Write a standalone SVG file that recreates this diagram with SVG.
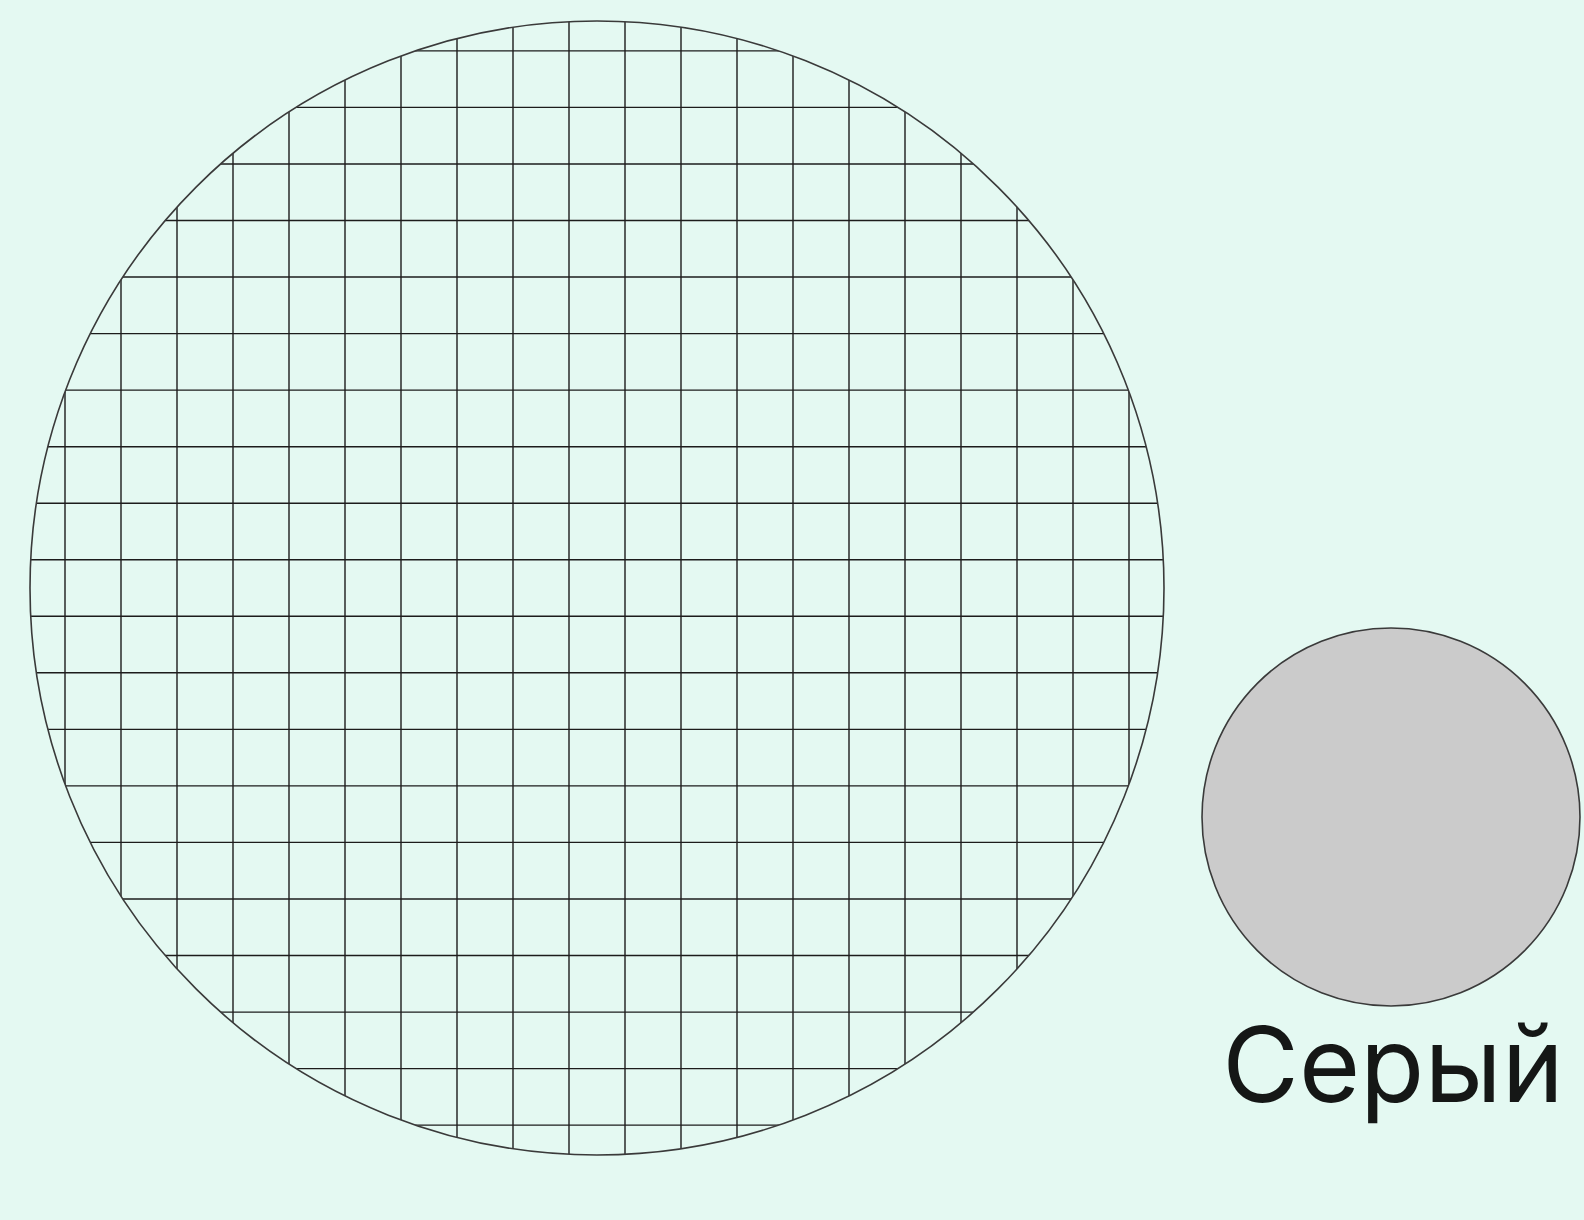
<svg xmlns="http://www.w3.org/2000/svg" width="1584" height="1220" viewBox="0 0 1584 1220">
  <style>
    .grid line { stroke: #1c1c1c; stroke-width: 1.4; }
    .outline { stroke: #3a3a3a; stroke-width: 1.6; }
    .label { font-family: Inter, "Noto Sans", "Liberation Sans", sans-serif; font-size: 105px; fill: #151716; }
  </style>
  <defs>
    <clipPath id="bigClip">
      <circle cx="597" cy="588" r="567"/>
    </clipPath>
  </defs>
  <rect width="1584" height="1220" fill="#e4f9f2"/>
  <g id="node-grid-circle">
    <g class="grid" clip-path="url(#bigClip)">
      <line x1="65" y1="0" x2="65" y2="1220"/>
      <line x1="121" y1="0" x2="121" y2="1220"/>
      <line x1="177" y1="0" x2="177" y2="1220"/>
      <line x1="233" y1="0" x2="233" y2="1220"/>
      <line x1="289" y1="0" x2="289" y2="1220"/>
      <line x1="345" y1="0" x2="345" y2="1220"/>
      <line x1="401" y1="0" x2="401" y2="1220"/>
      <line x1="457" y1="0" x2="457" y2="1220"/>
      <line x1="513" y1="0" x2="513" y2="1220"/>
      <line x1="569" y1="0" x2="569" y2="1220"/>
      <line x1="625" y1="0" x2="625" y2="1220"/>
      <line x1="681" y1="0" x2="681" y2="1220"/>
      <line x1="737" y1="0" x2="737" y2="1220"/>
      <line x1="793" y1="0" x2="793" y2="1220"/>
      <line x1="849" y1="0" x2="849" y2="1220"/>
      <line x1="905" y1="0" x2="905" y2="1220"/>
      <line x1="961" y1="0" x2="961" y2="1220"/>
      <line x1="1017" y1="0" x2="1017" y2="1220"/>
      <line x1="1073" y1="0" x2="1073" y2="1220"/>
      <line x1="1129" y1="0" x2="1129" y2="1220"/>
      <line x1="0" y1="50.9" x2="1200" y2="50.9"/>
      <line x1="0" y1="107.4" x2="1200" y2="107.4"/>
      <line x1="0" y1="164" x2="1200" y2="164"/>
      <line x1="0" y1="220.5" x2="1200" y2="220.5"/>
      <line x1="0" y1="277" x2="1200" y2="277"/>
      <line x1="0" y1="333.6" x2="1200" y2="333.6"/>
      <line x1="0" y1="390.1" x2="1200" y2="390.1"/>
      <line x1="0" y1="446.7" x2="1200" y2="446.7"/>
      <line x1="0" y1="503.2" x2="1200" y2="503.2"/>
      <line x1="0" y1="559.7" x2="1200" y2="559.7"/>
      <line x1="0" y1="616.3" x2="1200" y2="616.3"/>
      <line x1="0" y1="672.8" x2="1200" y2="672.8"/>
      <line x1="0" y1="729.4" x2="1200" y2="729.4"/>
      <line x1="0" y1="785.9" x2="1200" y2="785.9"/>
      <line x1="0" y1="842.4" x2="1200" y2="842.4"/>
      <line x1="0" y1="899" x2="1200" y2="899"/>
      <line x1="0" y1="955.5" x2="1200" y2="955.5"/>
      <line x1="0" y1="1012.1" x2="1200" y2="1012.1"/>
      <line x1="0" y1="1068.6" x2="1200" y2="1068.6"/>
      <line x1="0" y1="1125.1" x2="1200" y2="1125.1"/>
    </g>
    <circle class="outline" cx="597" cy="588" r="567" fill="none"/>
  </g>
  <g id="node-grey">
    <circle class="outline" cx="1391" cy="817" r="189" fill="#cbcbcb"/>
    <text class="label" x="1393" y="1101.5" text-anchor="middle">Серый</text>
  </g>
  <g id="connectors"/>
</svg>
